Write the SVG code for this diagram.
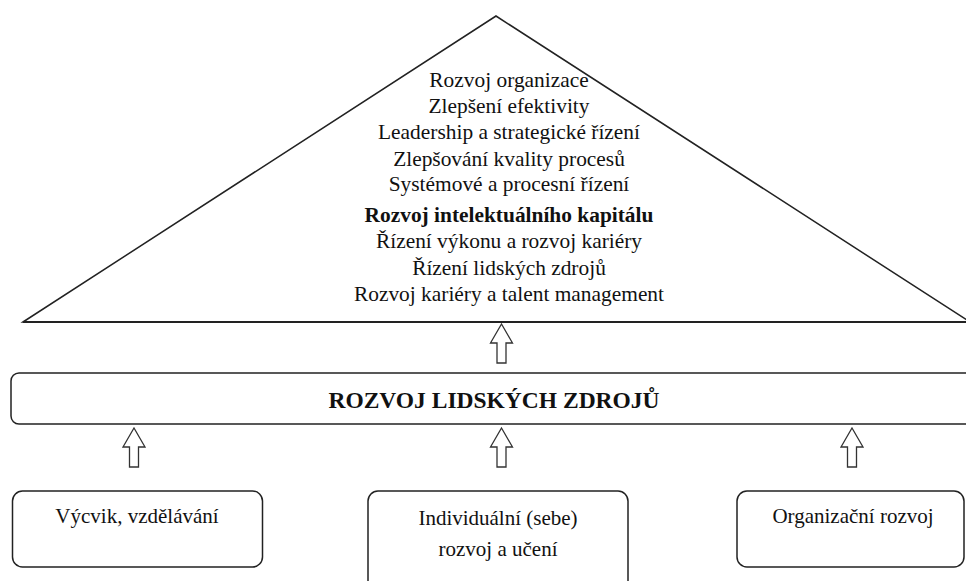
<svg xmlns="http://www.w3.org/2000/svg" width="966" height="581" viewBox="0 0 966 581">
<style>
  text { font-family: 'Liberation Serif', 'Times New Roman', serif; font-size: 21px; fill: #111; text-anchor: middle; }
  .p { font-size: 21.4px; }
  .b { font-weight: bold; }
  .shape { fill: #fff; stroke: #222; stroke-width: 1.5; }
  .arrow { fill: #fff; stroke: #333; stroke-width: 1.3; stroke-linejoin: miter; }
</style>
<defs>
  <path id="uparrow" d="M0,0 L11,19 L4.5,19 L4.5,39 L-4.5,39 L-4.5,19 L-11,19 Z"/>
</defs>
<rect width="966" height="581" fill="#fff"/>

<g id="pyramid">
  <polygon class="shape" points="23,322 496,16 970,322"/>
  <line x1="23" y1="322" x2="966" y2="322" stroke="#222" stroke-width="2"/>
  <text class="p" x="509" y="87">Rozvoj organizace</text>
  <text class="p" x="509" y="113">Zlepšení efektivity</text>
  <text class="p" x="509" y="139">Leadership a strategické řízení</text>
  <text class="p" x="509" y="166">Zlepšování kvality procesů</text>
  <text class="p" x="509" y="191">Systémové a procesní řízení</text>
  <text class="p b" x="509" y="222">Rozvoj intelektuálního kapitálu</text>
  <text class="p" x="509" y="248">Řízení výkonu a rozvoj kariéry</text>
  <text class="p" x="509" y="275">Řízení lidských zdrojů</text>
  <text class="p" x="509" y="301">Rozvoj kariéry a talent management</text>
</g>

<g id="rlz">
  <rect class="shape" x="11" y="373" width="970" height="51" rx="8" ry="8"/>
  <text class="b" x="494" y="408" style="font-size:23.5px">ROZVOJ LIDSKÝCH ZDROJŮ</text>
</g>

<g id="vycvik">
  <rect class="shape" x="12.5" y="491" width="250" height="76" rx="10" ry="10"/>
  <text x="137" y="523">Výcvik, vzdělávání</text>
</g>

<g id="individualni">
  <rect class="shape" x="368" y="491" width="260" height="110" rx="10" ry="10"/>
  <text x="498" y="525">Individuální (sebe)</text>
  <text x="498" y="556">rozvoj a učení</text>
</g>

<g id="organizacni">
  <rect class="shape" x="737" y="491" width="227" height="76" rx="10" ry="10"/>
  <text x="853" y="523">Organizační rozvoj</text>
</g>

<g id="connectors">
  <use href="#uparrow" class="arrow" transform="translate(501.5,324)"/>
  <use href="#uparrow" class="arrow" transform="translate(134,428)"/>
  <use href="#uparrow" class="arrow" transform="translate(501.5,428)"/>
  <use href="#uparrow" class="arrow" transform="translate(852,428)"/>
</g>
</svg>
